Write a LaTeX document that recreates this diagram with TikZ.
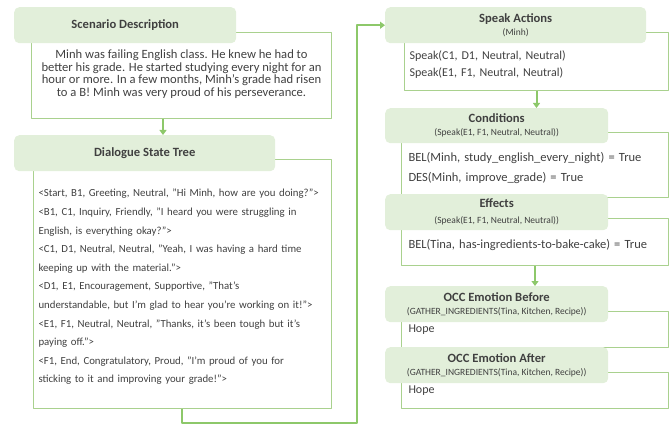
\documentclass[tikz,border=0pt]{standalone}
\usepackage{fontspec}
\setmainfont{Carlito}
\usetikzlibrary{arrows.meta}
\definecolor{hdrfill}{HTML}{E2EFDA}
\definecolor{boxline}{HTML}{A9D18E}
\definecolor{flowgreen}{HTML}{8DC86A}
\definecolor{inkgray}{HTML}{404040}
\newcommand{\subtxt}[1]{{\fontsize{9.5}{9}\selectfont\mdseries #1}}
\begin{document}
\begin{tikzpicture}[x=1pt,y=-1pt,>={Triangle[length=5pt,width=7pt]},line join=round,
	font=\fontsize{10.8}{18.6}\selectfont,text=inkgray,
	hdr/.style={rectangle,rounded corners=5pt,fill=hdrfill,anchor=north west,inner sep=0pt,align=center,
		font=\fontsize{12.6}{13}\selectfont\bfseries},
	bodybox/.style={rectangle,draw=boxline,line width=1pt,anchor=north west,inner xsep=7pt,inner ysep=0pt,align=left},
	flow/.style={->,draw=flowgreen,line width=2pt},
	flowbig/.style={->,draw=flowgreen,line width=2.5pt}]
	\useasboundingbox (0,0) rectangle (672,425);
	\path
	(163,0) coordinate (colA)
	(182,423) coordinate (turnA)
	(357,423) coordinate (turnB);
	% left column
	\node[bodybox,minimum width=300,minimum height=86,align=center,text depth=5pt,
		font=\fontsize{12.6}{12.7}\selectfont] (scnbody) at (31,32)
		{Minh was failing English class. He knew he had to\\better his grade. He started studying every night for an\\hour or more. In a few months, Minh's grade had risen\\to a B! Minh was very proud of his perseverance.};
	\node[hdr,minimum width=222,minimum height=36] (scnhead) at (14,7) {Scenario Description};
	\node[bodybox,minimum width=298,minimum height=249,inner xsep=5pt,text width=288] (dstbody) at (33,159)
		{\\[-5pt]<Start, B1, Greeting, Neutral, "Hi Minh, how are you doing?">\\
		<B1, C1, Inquiry, Friendly, "I heard you were struggling in\\
		English, is everything okay?">\\
		<C1, D1, Neutral, Neutral, "Yeah, I was having a hard time\\
		keeping up with the material.">\\
		<D1, E1, Encouragement, Supportive, "That's\\
		understandable, but I'm glad to hear you're working on it!">\\
		<E1, F1, Neutral, Neutral, "Thanks, it's been tough but it's\\
		paying off.">\\
		<F1, End, Congratulatory, Proud, "I'm proud of you for\\
		sticking to it and improving your grade!">};
	\node[hdr,minimum width=261,minimum height=36] (dsthead) at (14,135) {Dialogue State Tree};
	% right column
	\node[bodybox,minimum width=264,minimum height=58,inner xsep=5pt,text width=254,font=\fontsize{12}{17}\selectfont] (spkbody) at (404,32)
		{\\[-3pt]Speak(C1, D1, Neutral, Neutral)\\Speak(E1, F1, Neutral, Neutral)};
	\node[hdr,minimum width=261,minimum height=36] (spkhead) at (385,7)
		{Speak Actions\\[0pt]\subtxt{(Minh)}};
	\node[bodybox,minimum width=267,minimum height=65,text width=253,font=\fontsize{12.5}{20}\selectfont] (cndbody) at (401,132)
		{\\[-4pt]BEL(Minh, study\_english\_every\_night) = True\\DES(Minh, improve\_grade) = True};
	\node[hdr,minimum width=223,minimum height=35] (cndhead) at (385,108)
		{Conditions\\[0pt]\subtxt{(Speak(E1, F1, Neutral, Neutral))}};
	\node[bodybox,minimum width=267,minimum height=47,text width=253,font=\fontsize{12.5}{17}\selectfont] (effbody) at (401,218)
		{\\[-1pt]BEL(Tina, has-ingredients-to-bake-cake) = True};
	\node[hdr,minimum width=223,minimum height=36] (effhead) at (385,194)
		{Effects\\[3pt]\subtxt{(Speak(E1, F1, Neutral, Neutral))}};
	\node[bodybox,minimum width=267,minimum height=36,text width=253,font=\fontsize{12}{17}\selectfont] (occbbody) at (401,311)
		{Hope};
	\node[hdr,minimum width=223,minimum height=36] (occbhead) at (385,286)
		{OCC Emotion Before\\[0pt]\subtxt{(GATHER\_INGREDIENTS(Tina, Kitchen, Recipe))}};
	\node[bodybox,minimum width=267,minimum height=36,text width=253,font=\fontsize{12}{17}\selectfont] (occabody) at (401,372)
		{Hope};
	\node[hdr,minimum width=223,minimum height=36] (occahead) at (385,347)
		{OCC Emotion After\\[0pt]\subtxt{(GATHER\_INGREDIENTS(Tina, Kitchen, Recipe))}};
	% connectors
	\draw[flow](scnbody.south -| colA)--(dsthead.north -| colA);
	\draw[flow](spkbody.south)--(spkbody.south |- cndhead.north);
	\draw[flow](effbody.south)--(effbody.south |- occbhead.north);
	\draw[flowbig](dstbody.south -| turnA)--(turnA)--(turnB)|-(spkhead.west);
\end{tikzpicture}
\end{document}
